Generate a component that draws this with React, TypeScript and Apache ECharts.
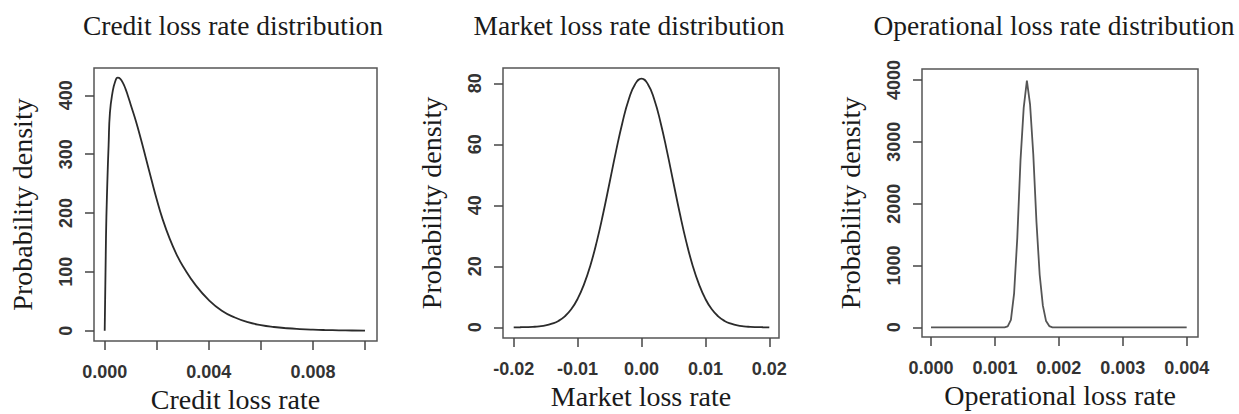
import React, { useEffect, useRef } from "react";
import * as echarts from "echarts";

// ---------- data ----------
const titles = [
  "Credit loss rate distribution",
  "Market loss rate distribution",
  "Operational loss rate distribution",
];
const xNames = ["Credit loss rate", "Market loss rate", "Operational loss rate"];
const yName = "Probability density";

const creditX = [0, 0.00005, 0.0001, 0.00015, 0.0002, 0.0003, 0.0004, 0.0005, 0.0006, 0.0007, 0.0008, 0.0009, 0.001, 0.0012, 0.0014, 0.0016, 0.0018, 0.002, 0.0022, 0.0025, 0.0028, 0.003, 0.0035, 0.004, 0.0045, 0.005, 0.0055, 0.006, 0.0065, 0.007, 0.0075, 0.008, 0.0085, 0.009, 0.0095, 0.01];
const creditY = [0, 160, 250, 315, 370, 405, 423, 430, 428, 421, 411, 398, 384, 356, 324, 290, 256, 223, 193, 156, 126, 110, 77, 52, 34, 22.5, 14.5, 9.5, 6.3, 4.2, 2.8, 1.8, 1.1, 0.6, 0.3, 0.1];

const marketX = [-0.02, -0.019, -0.018, -0.017, -0.016, -0.015, -0.014, -0.013, -0.012, -0.011, -0.01, -0.009, -0.008, -0.007, -0.006, -0.005, -0.004, -0.003, -0.002, -0.001, 0, 0.001, 0.002, 0.003, 0.004, 0.005, 0.006, 0.007, 0.008, 0.009, 0.01, 0.011, 0.012, 0.013, 0.014, 0.015, 0.016, 0.017, 0.018, 0.019, 0.02];
const marketY = [0.01, 0.03, 0.07, 0.15, 0.3, 0.6, 1.2, 2.1, 3.6, 5.9, 9.3, 14.1, 20.3, 28.1, 37.3, 47.4, 57.6, 67.0, 74.7, 79.7, 81.5, 79.7, 74.7, 67.0, 57.6, 47.4, 37.3, 28.1, 20.3, 14.1, 9.3, 5.9, 3.6, 2.1, 1.2, 0.6, 0.3, 0.15, 0.07, 0.03, 0.01];

const opX = [0, 0.0005, 0.001, 0.00115, 0.0012, 0.00125, 0.0013, 0.00135, 0.0014, 0.00145, 0.0015, 0.00155, 0.0016, 0.00165, 0.0017, 0.00175, 0.0018, 0.00185, 0.0019, 0.0025, 0.003, 0.0035, 0.004];
const opY = [0, 0, 0, 0, 15, 120, 550, 1450, 2700, 3550, 3990, 3600, 2800, 1700, 850, 350, 100, 20, 0, 0, 0, 0, 0];

const creditXTicks = [0, 0.002, 0.004, 0.006, 0.008, 0.01];
const creditXLabels = [0, 0.004, 0.008];
const creditYTicks = [0, 100, 200, 300, 400];
const marketXTicks = [-0.02, -0.01, 0, 0.01, 0.02];
const marketYTicks = [0, 20, 40, 60, 80];
const opXTicks = [0, 0.001, 0.002, 0.003, 0.004];
const opYTicks = [0, 1000, 2000, 3000, 4000];

// ---------- layout ----------
const grids = [
  { left: 94, top: 68, width: 283, height: 273 },
  { left: 503, top: 68, width: 276, height: 270 },
  { left: 922, top: 69, width: 276, height: 268 },
];
const xRanges = [
  [-0.000411, 0.010461],
  [-0.021675, 0.021518],
  [-0.000141, 0.004177],
];
const yRanges = [
  [-17.5, 446.4],
  [-3.5, 85.0],
  [-157, 4178],
];
const xDecimals = [3, 2, 3];
const titleX = [233, 629, 1054];

const SANS = "'Liberation Sans', Arial, Helvetica, sans-serif";
const SERIF = "'Liberation Serif', 'Times New Roman', serif";

function pairs(xs: number[], ys: number[]) {
  return xs.map((x, i) => [x, ys[i]]);
}

export default function App() {
  const ref = useRef<HTMLDivElement>(null);
  useEffect(() => {
    if (!ref.current) return;
    const chart = echarts.init(ref.current, undefined, { renderer: "svg" });

    const xTickSets = [creditXTicks, marketXTicks, opXTicks];
    const xLabelSets = [creditXLabels, marketXTicks, opXTicks];
    const yTickSets = [creditYTicks, marketYTicks, opYTicks];
    const lineColors = ["#2b2b2b", "#2b2b2b", "#555555"];
    const smooths = [0.5, 0.5, false];
    const datas = [pairs(creditX, creditY), pairs(marketX, marketY), pairs(opX, opY)];

    const option: any = {
      animation: false,
      backgroundColor: "#ffffff",
      grid: grids.map((g) => ({
        ...g,
        show: true,
        borderColor: "#555",
        borderWidth: 1.5,
        backgroundColor: "transparent",
        containLabel: false,
        outerBoundsMode: "none",
      })),
      xAxis: grids.map((_, i) => ({
        type: "value",
        gridIndex: i,
        position: "bottom",
        min: xRanges[i][0],
        max: xRanges[i][1],
        name: xNames[i],
        nameLocation: "middle",
        nameGap: 44,
        nameTextStyle: { fontFamily: SERIF, fontSize: 28, lineHeight: 28, color: "#1a1a1a" },
        axisLine: { show: false, onZero: false },
        splitLine: { show: false },
        axisTick: {
          show: true,
          length: 9,
          customValues: xTickSets[i],
          lineStyle: { color: "#444", width: 1.5 },
        },
        axisLabel: {
          show: true,
          customValues: xLabelSets[i],
          margin: 22,
          fontFamily: SANS,
          fontWeight: "bold",
          fontSize: 18,
          color: "#333",
          formatter: (v: number) => (Math.abs(v) < 1e-12 ? 0 : v).toFixed(xDecimals[i]),
        },
      })),
      yAxis: grids.map((_, i) => ({
        type: "value",
        gridIndex: i,
        position: "left",
        min: yRanges[i][0],
        max: yRanges[i][1],
        name: yName,
        nameLocation: "middle",
        nameGap: 58,
        nameTextStyle: { fontFamily: SERIF, fontSize: 28, color: "#1a1a1a" },
        axisLine: { show: false, onZero: false },
        splitLine: { show: false },
        axisTick: {
          show: true,
          length: 9,
          customValues: yTickSets[i],
          lineStyle: { color: "#444", width: 1.5 },
        },
        axisLabel: {
          show: true,
          customValues: yTickSets[i],
          rotate: 90,
          margin: 19,
          fontFamily: SANS,
          fontWeight: "bold",
          fontSize: 18,
          color: "#333",
          formatter: (v: number) => String(Math.round(v)),
        },
      })),
      series: datas.map((d, i) => ({
        type: "line",
        xAxisIndex: i,
        yAxisIndex: i,
        data: d,
        showSymbol: false,
        symbol: "none",
        smooth: smooths[i],
        lineStyle: { color: lineColors[i], width: 1.8 },
        silent: true,
      })),
      graphic: titles.map((t, i) => ({
        type: "text",
        x: titleX[i],
        y: 25,
        silent: true,
        style: {
          text: t,
          fontFamily: SERIF,
          fontSize: 27.5,
          fill: "#1a1a1a",
          textAlign: "center",
          textVerticalAlign: "middle",
        },
      })),
    };
    chart.setOption(option);
    return () => chart.dispose();
  }, []);
  return (
    <div
      ref={ref}
      style={{ position: "absolute", left: 0, top: 0, width: 1239, height: 414 }}
    />
  );
}
